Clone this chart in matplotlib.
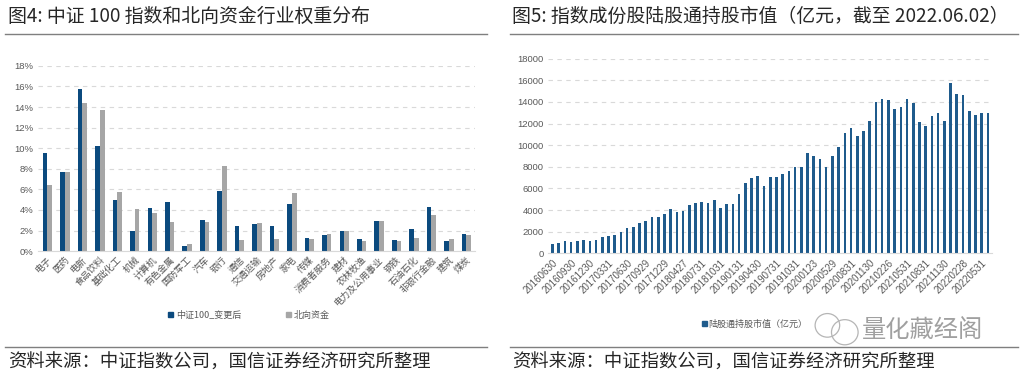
import numpy as np
import matplotlib
matplotlib.use("Agg")
import matplotlib.pyplot as plt
from matplotlib.lines import Line2D
from matplotlib.patches import Patch, Ellipse

plt.rcParams['font.family'] = ['Noto Sans CJK SC', 'DejaVu Sans']

# left chart: industry weights (%)
categories = ['电子', '医药', '电新', '食品饮料', '基础化工', '机械', '计算机', '有色金属',
              '国防军工', '汽车', '银行', '通信', '交通运输', '房地产', '家电', '传媒',
              '消费者服务', '建材', '农林牧渔', '电力及公用事业', '钢铁', '石油石化',
              '非银行金融', '建筑', '煤炭']
csi100 = [9.5, 7.7, 15.8, 10.2, 5.0, 2.0, 4.2, 4.8, 0.5, 3.0, 5.8, 2.4, 2.65, 2.45,
          4.55, 1.25, 1.55, 2.0, 1.15, 2.9, 1.1, 2.1, 4.3, 1.0, 1.65]
north = [6.4, 7.7, 14.4, 13.7, 5.7, 4.1, 3.7, 2.8, 0.65, 2.8, 8.3, 1.1, 2.7, 1.2,
         5.65, 1.15, 1.7, 2.0, 1.0, 2.9, 0.95, 1.25, 3.5, 1.15, 1.55]

# right chart: stock connect holdings (100m yuan)
holdings = [890, 985, 1110, 1045, 1110, 1200, 1140, 1260, 1480, 1630,
            1720, 1970, 2310, 2460, 2770, 2950, 3320, 3385, 3600, 4090,
            3850, 3880, 4430, 4615, 4770, 4680, 4920, 4185, 4555, 4555,
            5480, 6460, 6985, 7170, 6245, 7080, 7080, 7355, 7630, 8000,
            8030, 9320, 8985, 8710, 7940, 9015, 9880, 11140, 11570, 10890,
            11320, 12245, 14000, 14310, 14185, 13385, 13570, 14280, 13940, 12155,
            11815, 12680, 12985, 12280, 15755, 14710, 14645, 13140, 12770, 13015,
            13015]
date_labels = ['20160630', '20160930', '20161230', '20170331', '20170630', '20170929',
               '20171229', '20180427', '20180731', '20181031', '20190131', '20190430',
               '20190731', '20191031', '20200123', '20200529', '20200831', '20201130',
               '20210226', '20210531', '20210831', '20211130', '20220228', '20220531']

navy = '#0b4a7e'
grey = '#a6a6a6'
blue = '#1f5b8c'
txt = '#595959'
num_font = 'Liberation Sans'

fig = plt.figure(figsize=(10.24, 3.81), dpi=100)

# ---------- left ----------
ax1 = fig.add_axes([0.037, 0.341, 0.427, 0.486])
x = np.arange(len(categories))
w = 0.27
ax1.bar(x - w / 2, csi100, w, color=navy, label='中证100_变更后')
ax1.bar(x + w / 2, north, w, color=grey, label='北向资金')
ax1.set_xlim(-0.55, len(categories) - 0.5)
ax1.set_ylim(0, 18)
ax1.set_yticks(np.arange(0, 19, 2))
ax1.set_yticklabels([f'{v}%' for v in range(0, 19, 2)], fontfamily=num_font,
                    fontsize=6.8, color=txt)
ax1.set_xticks(x)
ax1.set_xticklabels(categories, rotation=45, ha='right', rotation_mode='anchor',
                    fontsize=6.7, color=txt)
ax1.yaxis.grid(True, linestyle=(0, (4, 4)), color='#d9d9d9', lw=0.8)
ax1.set_axisbelow(True)
for s in ['top', 'right', 'left']:
    ax1.spines[s].set_visible(False)
ax1.spines['bottom'].set_color('#d9d9d9')
ax1.tick_params(length=0, pad=3)
ax1.legend(handles=[Patch(color=navy, label='中证100_变更后'),
                    Patch(color=grey, label='北向资金')],
           loc='center', bbox_to_anchor=(0.243, 0.173), bbox_transform=fig.transFigure,
           ncol=2, frameon=False, fontsize=6.5, handlelength=0.6, handleheight=0.6,
           handletextpad=0.3, columnspacing=5.0, labelcolor=txt)

# ---------- right ----------
ax2 = fig.add_axes([0.535, 0.335, 0.434, 0.511])
xr = np.arange(len(holdings))
ax2.bar(xr, holdings, 0.42, color=blue)
ax2.set_xlim(-0.75, len(holdings) - 0.3)
ax2.set_ylim(0, 18000)
ax2.set_yticks(np.arange(0, 18001, 2000))
ax2.set_yticklabels([str(v) for v in range(0, 18001, 2000)], fontfamily=num_font,
                    fontsize=6.8, color=txt)
ax2.set_xticks(xr[::3][:len(date_labels)])
ax2.set_xticklabels(date_labels, rotation=45, ha='right', rotation_mode='anchor',
                    fontfamily=num_font, fontsize=7, color=txt)
ax2.yaxis.grid(True, linestyle=(0, (4, 4)), color='#d9d9d9', lw=0.8)
ax2.set_axisbelow(True)
for s in ['top', 'right', 'left']:
    ax2.spines[s].set_visible(False)
ax2.spines['bottom'].set_color('#d9d9d9')
ax2.tick_params(length=0, pad=3)
ax2.legend(handles=[Patch(color=blue, label='陆股通持股市值（亿元）')],
           loc='center', bbox_to_anchor=(0.737, 0.149), bbox_transform=fig.transFigure,
           frameon=False, fontsize=6.5, handlelength=0.5, handleheight=0.5,
           handletextpad=0.2, labelcolor=txt)

# ---------- titles, rules, sources ----------
fig.text(0.008, 0.958, '图4: 中证 100 指数和北向资金行业权重分布', fontsize=13.6,
         color='#262626', va='center')
fig.text(0.500, 0.958, '图5: 指数成份股陆股通持股市值（亿元，截至 2022.06.02）',
         fontsize=13.6, color='#262626', va='center')
for x0, x1 in [(0.005, 0.476), (0.498, 0.994)]:
    fig.add_artist(Line2D([x0, x1], [0.911, 0.911], color='#7f7f7f', lw=1.0))
    fig.add_artist(Line2D([x0, x1], [0.09, 0.09], color='#7f7f7f', lw=1.0))
fig.text(0.008, 0.047, '资料来源：中证指数公司，国信证券经济研究所整理', fontsize=13.2,
         color='#262626', va='center')
fig.text(0.500, 0.047, '资料来源：中证指数公司，国信证券经济研究所整理', fontsize=13.2,
         color='#262626', va='center')

# watermark
fig.add_artist(Ellipse((0.808, 0.146), 0.024, 0.062, fill=False, ec='#b5b5b5', lw=0.9,
                       transform=fig.transFigure))
fig.add_artist(Ellipse((0.825, 0.128), 0.026, 0.066, fill=False, ec='#b5b5b5', lw=0.9,
                       transform=fig.transFigure))
fig.text(0.842, 0.135, '量化藏经阁', fontsize=17.5, color='#a0a0a0', va='center')

fig.savefig('out.png', dpi=100)
